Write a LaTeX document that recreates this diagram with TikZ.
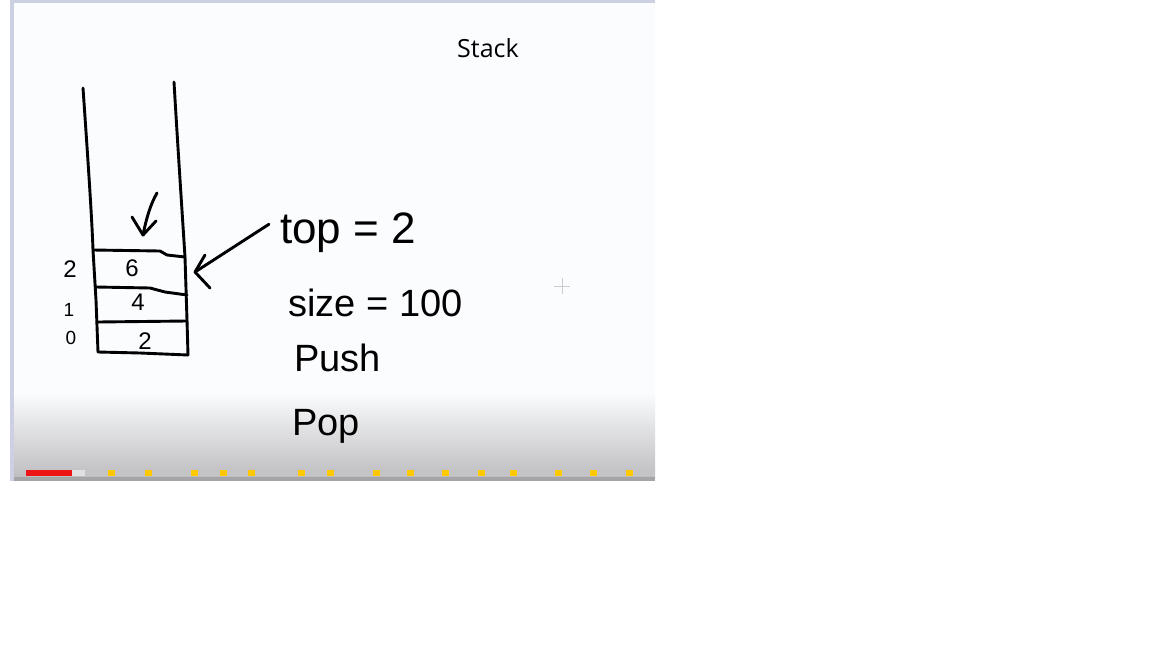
\documentclass[tikz,border=0pt]{standalone}
\usepackage{fontspec}
\usetikzlibrary{calc}
\setmainfont{Liberation Sans}
\newfontfamily\titlefont{Open Sans}
\definecolor{slide}{RGB}{251,252,254}
\definecolor{frame}{RGB}{205,208,226}
\definecolor{barbg}{RGB}{196,196,198}
\definecolor{baryel}{RGB}{255,200,0}
\definecolor{barred}{RGB}{236,20,20}
\definecolor{shadebot}{RGB}{190,190,192}
\definecolor{edgegray}{RGB}{165,165,168}
\definecolor{barlight}{RGB}{225,225,225}
\begin{document}
\begin{tikzpicture}[x=1pt,y=-1pt,
  ink/.style={line width=2.9pt, line cap=round, line join=round, black},
  hand/.style={font=\fontsize{38}{40}\selectfont, inner sep=0pt, anchor=base west},
  cell/.style={font=\fontsize{24}{26}\selectfont, inner sep=0pt}]
\useasboundingbox (0,0) rectangle (1152,648);
\fill[white] (0,0) rectangle (1152,648);
% slide area
\fill[slide] (10,0) rectangle (655,480);
\shade[top color=slide, bottom color=shadebot] (14,392) rectangle (655,478);
\fill[edgegray] (14,477) rectangle (655,481);
\fill[frame] (10,0) rectangle (14,481);
\fill[frame] (10,0) rectangle (655,3);
% progress bar
\fill[barbg] (26,470) rectangle (655,476);
\fill[barlight] (72,470) rectangle (85,476);
\fill[barred] (26,470) rectangle (72,476);
\foreach \mx in {111,148,194,223,251,301,330,376,410,445,481,513,558,593,629}
  \fill[baryel] (\mx-3.5,470) rectangle (\mx+3.5,476);
% title
\node[font=\titlefont\fontsize{25}{27}\selectfont, inner sep=0pt, anchor=base west] (title) at (457,57) {Stack};
% stack walls
\draw[ink] (83,88) .. controls (88,160) and (92,220) .. (93,250) -- (96,300) -- (98,352);
\draw[ink] (174,82) .. controls (178,150) and (182,210) .. (185,257) -- (187,320) -- (188,355);
% stack cells
\draw[ink] (93,250) -- (160,251) -- (167,255) -- (185,257);
\draw[ink] (96,287) -- (150,288) -- (165,292) -- (187,295);
\draw[ink] (98,322) -- (187,321);
\draw[ink] (98,352) -- (140,353) -- (188,355);
\node[cell] (v2) at (132,268) {6};
\node[cell] (v1) at (138,302) {4};
\node[cell] (v0) at (145,341) {2};
\node[cell] (i2) at (70,269) {2};
\node[cell, font=\fontsize{19}{21}\selectfont] (i1) at (69,310) {1};
\node[cell, font=\fontsize{19}{21}\selectfont] (i0) at (71,338) {0};
% down arrow
\draw[ink] (157,193) .. controls (150,205) and (146,220) .. (143,235);
\draw[ink] (132,217) -- (143,235) -- (156,221);
% texts
\node[hand, font=\fontsize{44}{46}\selectfont] (top) at (280,243) {top = 2};
\node[hand] (size) at (288,316) {size = 100};
\node[hand] (push) at (294,371) {Push};
\node[hand] (pop) at (292,435) {Pop};
% arrow to top cell
\coordinate (tip) at (195,272);
\draw[ink] ($(top.west)+(-11,-8)$) -- (tip);
\draw[ink] (205,255) -- (tip) -- (210,288);
% cursor
\draw[gray!40, line width=0.6pt] (554,286) -- (570,286) (562,278) -- (562,294);
\end{tikzpicture}
\end{document}
